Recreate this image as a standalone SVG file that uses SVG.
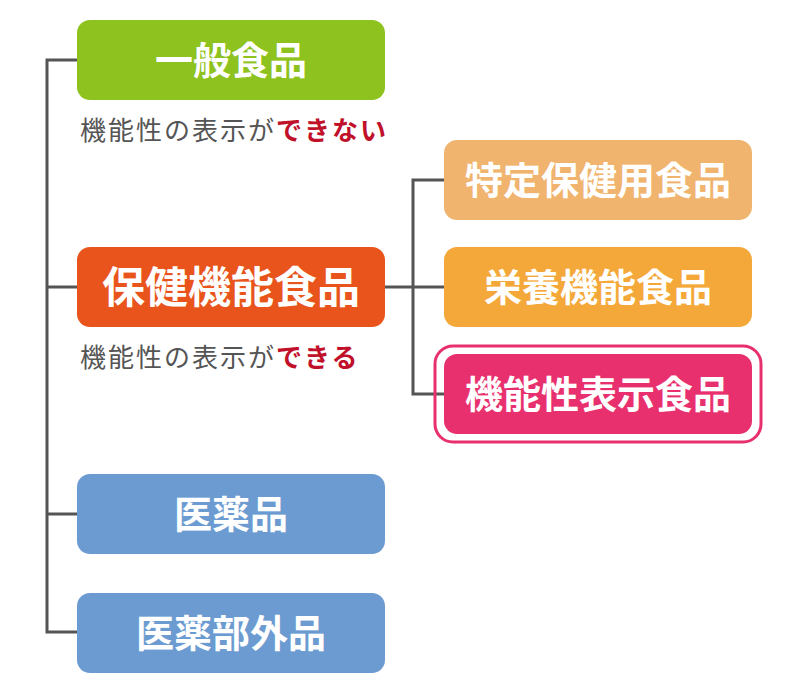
<svg xmlns="http://www.w3.org/2000/svg" width="800" height="691" viewBox="0 0 800 691">
<style>
text{font-family:"Noto Sans CJK JP","Noto Sans",sans-serif;font-weight:bold;text-anchor:middle;fill:#fff}
.l{font-size:38px}
.n{font-size:26px;font-weight:normal;text-anchor:start;fill:#555;letter-spacing:2px}
.r{fill:#c0102a;font-weight:bold}
.c{stroke:#555;stroke-width:3;fill:none}
</style>
<rect width="800" height="691" fill="#fff"/>
<g id="connectors">
<path class="c" d="M77 60H47V632H77M47 287H77M47 514H77"/>
<path class="c" d="M385 287H413M444 180H413V394H444M413 287H444"/>
</g>
<g id="n1"><rect x="77" y="20" width="308" height="80" rx="13" fill="#8dc21f"/><text class="l" x="231" y="74">一般食品</text></g>
<text class="n" x="80" y="140">機能性の表示が<tspan class="r">できない</tspan></text>
<g id="n2"><rect x="77" y="247" width="308" height="80" rx="13" fill="#e8541c"/><text x="231" y="303" style="font-size:43px">保健機能食品</text></g>
<text class="n" x="80" y="367">機能性の表示が<tspan class="r">できる</tspan></text>
<g id="n3"><rect x="77" y="474" width="308" height="80" rx="13" fill="#6b9bd1"/><text class="l" x="231" y="528">医薬品</text></g>
<g id="n4"><rect x="77" y="593" width="308" height="80" rx="13" fill="#6b9bd1"/><text class="l" x="231" y="647">医薬部外品</text></g>
<g id="n5"><rect x="444" y="140" width="308" height="80" rx="13" fill="#f0b46e"/><text class="l" x="598" y="194">特定保健用食品</text></g>
<g id="n6"><rect x="444" y="247" width="308" height="80" rx="13" fill="#f5a83a"/><text class="l" x="598" y="301">栄養機能食品</text></g>
<g id="n7"><rect x="435" y="346" width="326" height="96" rx="18" fill="none" stroke="#e8306e" stroke-width="3"/><rect x="444" y="354" width="308" height="80" rx="13" fill="#e8306e"/><text class="l" x="598" y="408">機能性表示食品</text></g>
</svg>
